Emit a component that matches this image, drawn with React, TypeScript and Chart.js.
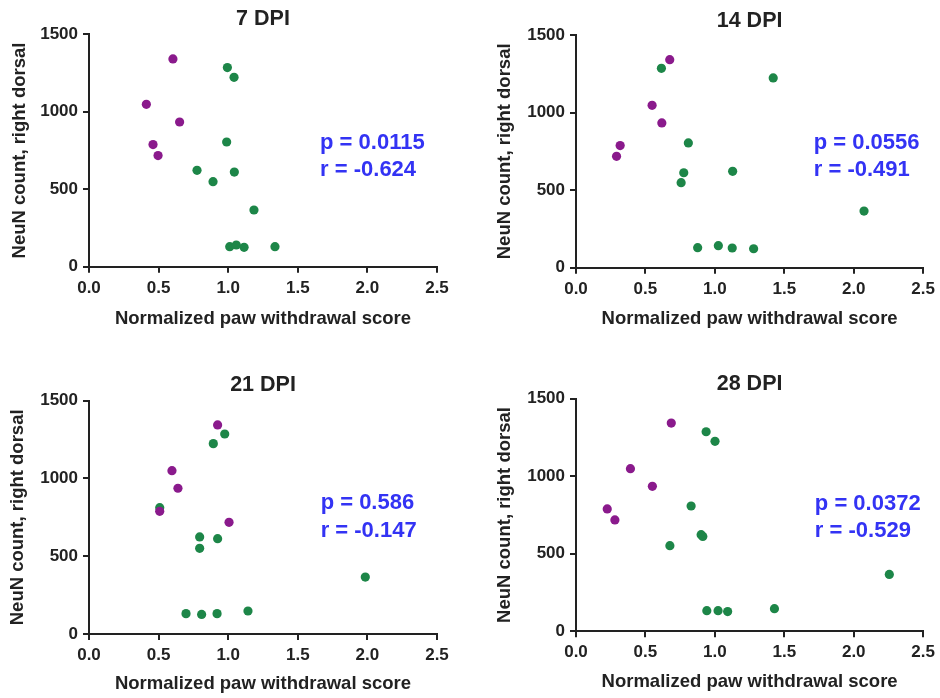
import React, { useEffect, useRef } from "react";
import { Chart, registerables } from "chart.js";

Chart.register(...registerables);

const FONT = 'Arial, "Liberation Sans", Helvetica, sans-serif';

// ---- Data ----
const panelTitles = ["7 DPI", "14 DPI", "21 DPI", "28 DPI"];
const pValues = ["p = 0.0115", "p = 0.0556", "p = 0.586", "p = 0.0372"];
const rValues = ["r = -0.624", "r = -0.491", "r = -0.147", "r = -0.529"];
const xTitle = "Normalized paw withdrawal score";
const yTitle = "NeuN count, right dorsal";
const xMin = 0;
const xMax = 2.5;
const xStep = 0.5;
const yMin = 0;
const yMax = 1500;
const yStep = 500;

const dpi7PurpleX = [0.603, 0.412, 0.651, 0.46, 0.496];
const dpi7PurpleY = [1341, 1048, 934, 788, 717];
const dpi7GreenX = [0.994, 1.042, 0.989, 0.776, 1.044, 0.891, 1.185, 1.011, 1.058, 1.114, 1.336];
const dpi7GreenY = [1285, 1222, 805, 622, 611, 549, 366, 129, 140, 125, 129];

const dpi14PurpleX = [0.675, 0.548, 0.618, 0.318, 0.292];
const dpi14PurpleY = [1341, 1047, 933, 787, 718];
const dpi14GreenX = [0.615, 1.42, 0.809, 1.128, 0.776, 0.757, 2.074, 0.876, 1.025, 1.125, 1.279];
const dpi14GreenY = [1285, 1223, 804, 621, 612, 548, 365, 129, 142, 127, 122];

const dpi21PurpleX = [0.924, 0.596, 0.639, 0.508, 1.006];
const dpi21PurpleY = [1344, 1050, 937, 789, 718];
const dpi21GreenX = [0.975, 0.893, 0.508, 0.795, 0.924, 0.795, 1.985, 0.697, 0.809, 0.92, 1.142];
const dpi21GreenY = [1286, 1224, 812, 624, 613, 551, 366, 131, 126, 131, 148];

const dpi28PurpleX = [0.686, 0.392, 0.55, 0.225, 0.28];
const dpi28PurpleY = [1343, 1049, 935, 789, 718];
const dpi28GreenX = [0.937, 1.001, 0.829, 0.901, 0.913, 0.676, 2.256, 0.942, 1.023, 1.092, 1.429];
const dpi28GreenY = [1287, 1225, 808, 623, 612, 552, 367, 133, 133, 127, 146];

const purpleXs = [dpi7PurpleX, dpi14PurpleX, dpi21PurpleX, dpi28PurpleX];
const purpleYs = [dpi7PurpleY, dpi14PurpleY, dpi21PurpleY, dpi28PurpleY];
const greenXs = [dpi7GreenX, dpi14GreenX, dpi21GreenX, dpi28GreenX];
const greenYs = [dpi7GreenY, dpi14GreenY, dpi21GreenY, dpi28GreenY];

// ---- Styling / layout ----
const PURPLE = "#8a1a8c";
const GREEN = "#1d8648";
const BLUE = "#3333f4";
const INK = "#222222";

const CANVAS_W = 470;
const CANVAS_H = 349;

type Layout = {
  left: number;
  top: number;
  plotLeft: number;
  plotRight: number;
  plotTop: number;
  plotBottom: number;
  titleY: number;
  xTitleY: number;
  yTitleX: number;
  statX: number;
  statPY: number;
  statRY: number;
};

const layouts: Layout[] = [
  { left: 0, top: 0, plotLeft: 89, plotRight: 437, plotTop: 34.3, plotBottom: 266.7, titleY: 19, xTitleY: 319.3, yTitleX: 20, statX: 1.66, statPY: 800, statRY: 624 },
  { left: 470, top: 0, plotLeft: 106, plotRight: 454, plotTop: 35, plotBottom: 267.7, titleY: 20.7, xTitleY: 319.3, yTitleX: 35, statX: 1.712, statPY: 806, statRY: 628 },
  { left: 0, top: 349, plotLeft: 89, plotRight: 437, plotTop: 51.7, plotBottom: 285, titleY: 36, xTitleY: 335, yTitleX: 18, statX: 1.664, statPY: 840, statRY: 664 },
  { left: 470, top: 349, plotLeft: 106, plotRight: 454.7, plotTop: 49.7, plotBottom: 282.3, titleY: 35, xTitleY: 333, yTitleX: 35, statX: 1.72, statPY: 821, statRY: 647 },
];

const TITLE_SIZE = 21.5;
const AXIS_TITLE_SIZE = 18.5;
const TICK_SIZE = 17;
const STAT_SIZE = 22;

const statPlugin = {
  id: "statText",
  afterDatasetsDraw(chart: any, _args: any, opts: any) {
    const { ctx, scales } = chart;
    const x = scales.x.getPixelForValue(opts.x);
    ctx.save();
    ctx.fillStyle = BLUE;
    ctx.font = `bold ${STAT_SIZE}px ${FONT}`;
    ctx.textAlign = "left";
    ctx.textBaseline = "middle";
    ctx.fillText(opts.p, x, scales.y.getPixelForValue(opts.py));
    ctx.fillText(opts.r, x, scales.y.getPixelForValue(opts.ry));
    ctx.restore();
  },
};

function Panel({ index }: { index: number }) {
  const ref = useRef<HTMLCanvasElement | null>(null);
  const L = layouts[index];

  useEffect(() => {
    if (!ref.current) return;
    const purple = purpleXs[index].map((x, i) => ({ x, y: purpleYs[index][i] }));
    const green = greenXs[index].map((x, i) => ({ x, y: greenYs[index][i] }));
    const titleLH = TITLE_SIZE * 1.2;
    const axisLH = AXIS_TITLE_SIZE * 1.2;

    const chart = new Chart(ref.current, {
      type: "scatter",
      data: {
        datasets: [
          { label: "purple", data: purple, backgroundColor: PURPLE, borderWidth: 0, pointRadius: 4.6 },
          { label: "green", data: green, backgroundColor: GREEN, borderWidth: 0, pointRadius: 4.6 },
        ],
      },
      options: {
        animation: false,
        responsive: false,
        layout: { padding: { left: 0, top: 0, bottom: 0, right: CANVAS_W - L.plotRight } },
        plugins: {
          legend: { display: false },
          tooltip: { enabled: false },
          title: {
            display: true,
            text: panelTitles[index],
            fullSize: false,
            color: INK,
            font: { family: FONT, size: TITLE_SIZE, weight: "bold" },
            padding: { top: L.titleY - titleLH / 2, bottom: L.plotTop - L.titleY - titleLH / 2 },
          },
          statText: { x: L.statX, py: L.statPY, ry: L.statRY, p: pValues[index], r: rValues[index] },
        } as any,
        scales: {
          x: {
            type: "linear",
            min: xMin,
            max: xMax,
            afterFit: (s: any) => {
              s.height = CANVAS_H - L.plotBottom;
            },
            ticks: {
              stepSize: xStep,
              color: INK,
              padding: 5,
              font: { family: FONT, size: TICK_SIZE, weight: "bold" },
              callback: (v: any) => Number(v).toFixed(1),
            },
            grid: { display: true, drawOnChartArea: false, drawTicks: true, tickLength: 6, color: INK, lineWidth: 2 },
            border: { display: true, color: INK, width: 2 },
            title: {
              display: true,
              text: xTitle,
              color: INK,
              font: { family: FONT, size: AXIS_TITLE_SIZE, weight: "bold" },
              padding: { top: 0, bottom: CANVAS_H - L.xTitleY - axisLH / 2 },
            },
          },
          y: {
            type: "linear",
            min: yMin,
            max: yMax,
            afterFit: (s: any) => {
              s.width = L.plotLeft;
            },
            ticks: {
              stepSize: yStep,
              color: INK,
              padding: 5,
              font: { family: FONT, size: TICK_SIZE, weight: "bold" },
              callback: (v: any) => String(Math.round(Number(v))),
            },
            grid: { display: true, drawOnChartArea: false, drawTicks: true, tickLength: 6, color: INK, lineWidth: 2 },
            border: { display: true, color: INK, width: 2 },
            title: {
              display: true,
              text: yTitle,
              color: INK,
              font: { family: FONT, size: AXIS_TITLE_SIZE, weight: "bold" },
              padding: { top: L.yTitleX - axisLH / 2, bottom: 0 },
            },
          },
        },
      } as any,
      plugins: [statPlugin],
    });
    return () => chart.destroy();
  }, [index]);

  return (
    <canvas
      ref={ref}
      width={CANVAS_W}
      height={CANVAS_H}
      style={{ position: "absolute", left: L.left, top: L.top, width: CANVAS_W, height: CANVAS_H }}
    />
  );
}

export default function App() {
  useEffect(() => {
    document.body.style.margin = "0";
    document.body.style.background = "#ffffff";
  }, []);
  return (
    <div style={{ position: "relative", width: 940, height: 698, background: "#ffffff", overflow: "hidden" }}>
      {[0, 1, 2, 3].map((i) => (
        <Panel key={i} index={i} />
      ))}
    </div>
  );
}
